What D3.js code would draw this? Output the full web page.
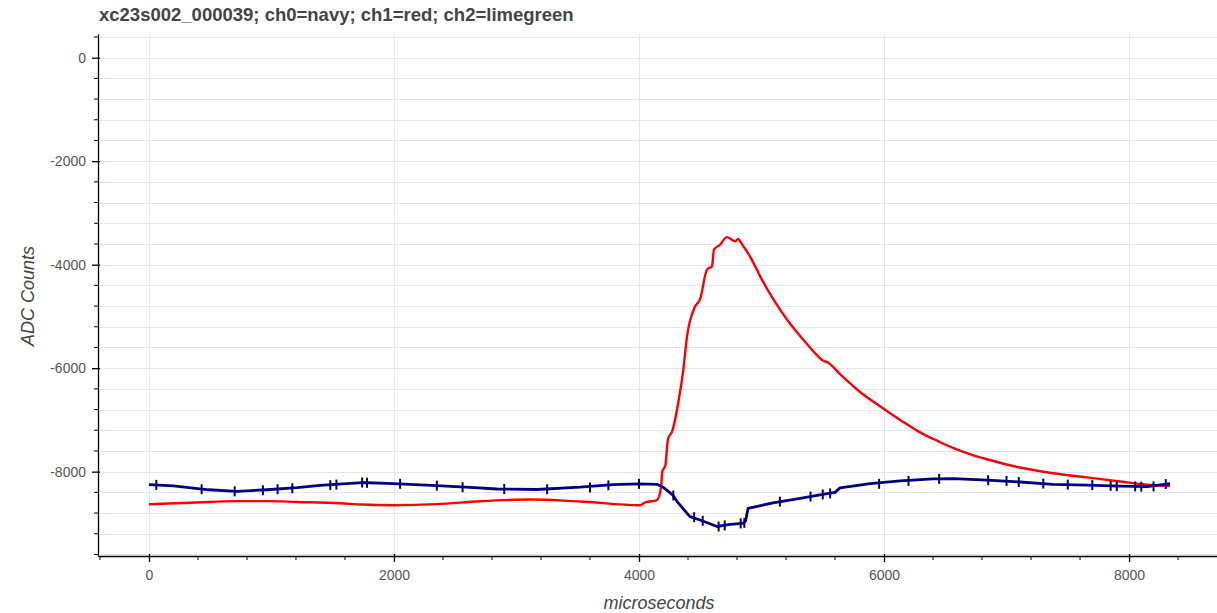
<!DOCTYPE html>
<html>
<head>
<meta charset="utf-8">
<script src="https://cdn.jsdelivr.net/npm/d3@7"></script>
<style>
  body { margin: 0; background: #fff; }
  svg { display: block; font-family: "Liberation Sans", Arial, sans-serif; }
</style>
</head>
<body>
<svg id="chart" width="1217" height="613"></svg>
<script>
// ch0 (navy) trace, microseconds / ADC counts
var navyX = [0, 200, 490, 718, 963, 1208, 1396, 1739, 1992, 2351, 2620, 2840, 3167, 3518, 3788, 4000, 4147,
  4196, 4277, 4318, 4416, 4498, 4637, 4743, 4849, 4870, 4890, 4947, 5094, 5339, 5535, 5600, 5641,
  5886, 6131, 6400, 6563, 6841, 7110, 7380, 7657, 7927, 8147, 8335];
var navyY = [-8250, -8275, -8350, -8380, -8350, -8310, -8265, -8210, -8230, -8270, -8305, -8335, -8345, -8300, -8250, -8235, -8245,
  -8300, -8455, -8600, -8870, -8935, -9060, -9020, -9000, -8950, -8711, -8680, -8603, -8506, -8423, -8400, -8314,
  -8230, -8180, -8140, -8135, -8165, -8200, -8245, -8260, -8280, -8290, -8230];

// noise spikes on ch0
var spikeX = [60, 430, 700, 930, 1050, 1170, 1480, 1530, 1740, 1780, 2050, 2350, 2560, 2900, 3250, 3600, 3750, 4000,
  4280, 4450, 4520, 4650, 4700, 4830, 4860, 5150, 5400, 5500, 5560, 5960, 6200, 6450, 6850, 7000, 7100, 7300, 7500, 7700, 7850, 7900,
  8050, 8100, 8200, 8300];
var spikeY = [-8255, -8340, -8380, -8360, -8340, -8320, -8260, -8250, -8210, -8215, -8235, -8270, -8300, -8335, -8340, -8305, -8265, -8235,
  -8460, -8880, -8950, -9060, -9040, -9000, -8990, -8580, -8480, -8440, -8420, -8235, -8180, -8140, -8165, -8180, -8200, -8230, -8250, -8260, -8275, -8280,
  -8285, -8290, -8285, -8240];

// ch1 (red) trace
var redX = [0, 490, 718, 963, 1208, 1560, 1739, 1992, 2351, 2702, 3110, 3518, 4008, 4049, 4147, 4180, 4190, 4215,
  4237, 4269, 4335, 4359, 4392, 4457, 4498, 4555, 4596, 4612, 4661, 4718, 4760, 4784, 4808, 4850, 4890, 4931,
  4990, 5100, 5208, 5330, 5430, 5500, 5543, 5641, 5800, 6000, 6150, 6294, 6450, 6563, 6700, 6841, 7110, 7380, 7657, 7927, 8147, 8335];
var redY = [-8630, -8585, -8570, -8570, -8585, -8610, -8635, -8648, -8628, -8571, -8538, -8577, -8648, -8596, -8550, -8300, -8000, -7880,
  -7365, -7230, -6460, -6080, -5385, -4810, -4670, -4096, -4030, -3710, -3615, -3467, -3520, -3550, -3505, -3640, -3775, -3950,
  -4230, -4680, -5060, -5420, -5690, -5850, -5890, -6115, -6450, -6790, -7030, -7240, -7420, -7540, -7660, -7760, -7920, -8030, -8110, -8190, -8250, -8280];

var xMajor = [0, 2000, 4000, 6000, 8000];
var yMajor = [0, -2000, -4000, -6000, -8000];

var titleText = "xc23s002_000039; ch0=navy; ch1=red; ch2=limegreen";

var pL = 98, pR = 1217, pT = 34, pB = 556;
var svg = d3.select("#chart");

var x = d3.scaleLinear().domain([-416, 8718]).range([pL, pR]);
var y = d3.scaleLinear().domain([-9630, 458]).range([pB, pT]);

// grid
var yGrid = d3.range(-9600, 401, 400);
svg.append("g").selectAll("line").data(yGrid).enter().append("line")
  .attr("x1", pL).attr("x2", pR)
  .attr("y1", function (d) { return Math.round(y(d)) + 0.5; })
  .attr("y2", function (d) { return Math.round(y(d)) + 0.5; })
  .attr("stroke", "#e5e5ec").attr("stroke-width", 1);
svg.append("g").selectAll("line").data(xMajor).enter().append("line")
  .attr("y1", pT).attr("y2", pB)
  .attr("x1", function (d) { return Math.round(x(d)) + 0.5; })
  .attr("x2", function (d) { return Math.round(x(d)) + 0.5; })
  .attr("stroke", "#e5e5ec").attr("stroke-width", 1);

// lines
var line = d3.line().x(function (d) { return x(d[0]); }).y(function (d) { return y(d[1]); });
var smooth = d3.line().curve(d3.curveMonotoneX).x(function (d) { return x(d[0]); }).y(function (d) { return y(d[1]); });
svg.append("path")
  .datum(redX.map(function (d, i) { return [d, redY[i]]; }))
  .attr("d", smooth).attr("fill", "none").attr("stroke", "#ff0000")
  .attr("stroke-width", 2.4).attr("stroke-linejoin", "round");
svg.append("path")
  .datum(navyX.map(function (d, i) { return [d, navyY[i]]; }))
  .attr("d", line).attr("fill", "none").attr("stroke", "#000080")
  .attr("stroke-width", 2.8).attr("stroke-linejoin", "round");
svg.append("g").selectAll("line").data(spikeX).enter().append("line")
  .attr("x1", function (d) { return x(d); }).attr("x2", function (d) { return x(d); })
  .attr("y1", function (d, i) { return y(spikeY[i]) - 5; })
  .attr("y2", function (d, i) { return y(spikeY[i]) + 5; })
  .attr("stroke", "#000080").attr("stroke-width", 2);

// axes
var xAxis = d3.axisBottom(x).tickValues(xMajor).tickSizeInner(6).tickSizeOuter(0).tickPadding(8)
  .tickFormat(d3.format("d"));
var gx = svg.append("g").attr("transform", "translate(0," + pB + ")").call(xAxis);
var yAxis = d3.axisLeft(y).tickValues(yMajor).tickSizeInner(6).tickSizeOuter(0).tickPadding(6)
  .tickFormat(function (d) { return d === 0 ? "0" : "-" + Math.abs(d); });
var gy = svg.append("g").attr("transform", "translate(" + pL + ",0)").call(yAxis);

// minor ticks
var xMinor = d3.range(-400, 8700, 400).filter(function (d) { return d % 2000 !== 0; });
gx.selectAll(".minor").data(xMinor).enter().append("line").attr("class", "minor")
  .attr("x1", function (d) { return x(d); }).attr("x2", function (d) { return x(d); })
  .attr("y1", 0).attr("y2", 4).attr("stroke", "#000");
var yMinor = d3.range(-9600, 401, 400).filter(function (d) { return d % 2000 !== 0; });
gy.selectAll(".minor").data(yMinor).enter().append("line").attr("class", "minor")
  .attr("y1", function (d) { return y(d); }).attr("y2", function (d) { return y(d); })
  .attr("x1", 0).attr("x2", -4).attr("stroke", "#000");
[gx, gy].forEach(function (g) {
  g.select(".domain").attr("stroke", "#000").attr("stroke-width", 1.3);
  g.selectAll(".tick line").attr("stroke", "#000").attr("stroke-width", 1.3);
  g.selectAll(".tick line").each(function () {
    var l = d3.select(this);
    if (g === gx) l.attr("y1", -2); else l.attr("x1", 2);
  });
  g.selectAll("text").attr("fill", "#555").style("font-size", "14px")
    .style("font-family", "'Liberation Sans', Arial, sans-serif");
});

// labels
svg.append("text").attr("x", 99).attr("y", 21).text(titleText)
  .attr("fill", "#444").style("font-weight", "bold").style("font-size", "18.5px");
svg.append("text").attr("x", 659).attr("y", 609).attr("text-anchor", "middle")
  .text("microseconds").attr("fill", "#444").style("font-style", "italic").style("font-size", "18px");
svg.append("text").attr("transform", "translate(34,296) rotate(-90)").attr("text-anchor", "middle")
  .text("ADC Counts").attr("fill", "#444").style("font-style", "italic").style("font-size", "18px");
</script>
</body>
</html>
